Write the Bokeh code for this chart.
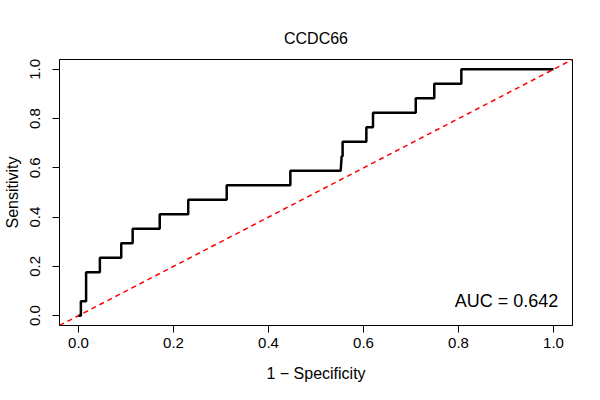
from bokeh.plotting import figure
from bokeh.models import Range1d, FixedTicker, Label, CustomJSTickFormatter
from bokeh.embed import file_html
from bokeh.resources import INLINE

# ROC curve points (1 - specificity, sensitivity)
fpr = [0.0, 0.005, 0.005, 0.016, 0.016, 0.045, 0.045, 0.09, 0.09, 0.114, 0.114,
       0.171, 0.171, 0.231, 0.231, 0.312, 0.312, 0.446, 0.446, 0.552, 0.554,
       0.556, 0.556, 0.606, 0.606, 0.62, 0.62, 0.71, 0.71, 0.749, 0.749,
       0.806, 0.806, 1.0]
tpr = [0.0, 0.0, 0.0588, 0.0588, 0.1765, 0.1765, 0.2353, 0.2353, 0.2941, 0.2941, 0.3529,
       0.3529, 0.4118, 0.4118, 0.4706, 0.4706, 0.5294, 0.5294, 0.5882, 0.5882, 0.6471,
       0.6471, 0.7059, 0.7059, 0.7647, 0.7647, 0.8235, 0.8235, 0.8824, 0.8824, 0.9412,
       0.9412, 1.0, 1.0]
diag = [-0.04, 1.04]
ticks = [0.0, 0.2, 0.4, 0.6, 0.8, 1.0]
title_text = "CCDC66"
auc_text = "AUC = 0.642"
xlabel = "1 \u2212 Specificity"
ylabel = "Sensitivity"

FONT = "Liberation Sans"

p = figure(width=584, height=384, output_backend="svg", toolbar_location=None,
           x_range=Range1d(-0.04, 1.04), y_range=Range1d(-0.04, 1.04),
           min_border_left=59, min_border_right=12, min_border_top=59,
           min_border_bottom=57, title=title_text)
p.background_fill_color = "white"
p.border_fill_color = "white"
p.outline_line_color = "black"
p.outline_line_width = 1
p.grid.visible = False

p.title.align = "center"
p.title.text_font = FONT
p.title.text_font_size = "16px"
p.title.text_font_style = "normal"
p.title.text_color = "black"
p.title.standoff = 26

fmt = CustomJSTickFormatter(code="return tick.toFixed(1);")
for ax in (p.xaxis[0], p.yaxis[0]):
    ax.ticker = FixedTicker(ticks=ticks)
    ax.formatter = fmt
    ax.minor_tick_line_color = None
    ax.major_tick_in = 0
    ax.major_tick_out = 7
    ax.major_tick_line_color = "black"
    ax.axis_line_color = "black"
    ax.major_label_text_font = FONT
    ax.major_label_text_font_size = "15px"
    ax.major_label_text_color = "black"
    ax.axis_label_text_font = FONT
    ax.axis_label_text_font_size = "16px"
    ax.axis_label_text_font_style = "normal"
    ax.axis_label_text_color = "black"

p.xaxis.axis_label = xlabel
p.yaxis.axis_label = ylabel
p.xaxis.major_label_standoff = 5
p.xaxis.axis_label_standoff = 14
p.yaxis.major_label_orientation = "vertical"
p.yaxis.major_label_standoff = 12
p.yaxis.axis_label_standoff = 7

p.line(diag, diag, line_color="#FF0000", line_width=1.5, line_dash="5 4")
p.line(fpr, tpr, line_color="black", line_width=2.5)

p.add_layout(Label(x=1.01, y=0.06, text=auc_text, text_align="right",
                   text_baseline="middle", text_font=FONT,
                   text_font_size="18px", text_color="black"))

open("out.html", "w").write(file_html(p, INLINE))
